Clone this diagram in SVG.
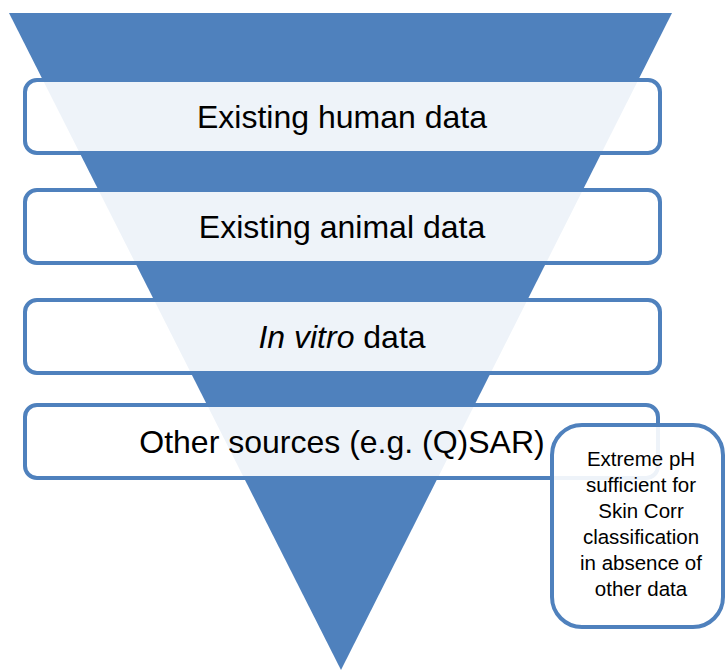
<svg xmlns="http://www.w3.org/2000/svg" width="725" height="670" viewBox="0 0 725 670">
<style>
.box{fill:#ffffff;fill-opacity:0.9;stroke:#4F81BD;stroke-width:4}
.lbl{font-family:"Liberation Sans",Arial,sans-serif;font-size:32px;fill:#000;text-anchor:middle}
.call{font-family:"Liberation Sans",Arial,sans-serif;font-size:20.5px;fill:#000;text-anchor:middle}
</style>
<rect width="725" height="670" fill="#ffffff"/>
<polygon id="funnel" points="9,13 672,13 341,670" fill="#4F81BD"/>
<g id="n1"><rect class="box" x="25" y="80" width="635" height="73" rx="12"/><text class="lbl" x="342" y="128">Existing human data</text></g>
<g id="n2"><rect class="box" x="25" y="190" width="635" height="73" rx="12"/><text class="lbl" x="342" y="238">Existing animal data</text></g>
<g id="n3"><rect class="box" x="25" y="300" width="635" height="73" rx="12"/><text class="lbl" x="342" y="348"><tspan font-style="italic">In vitro</tspan> data</text></g>
<g id="n4"><rect class="box" x="25" y="405" width="633" height="73" rx="12"/><text class="lbl" x="342" y="453">Other sources (e.g. (Q)SAR)</text></g>
<g id="n5"><rect class="box" x="552" y="425" width="171" height="202" rx="30"/>
<text class="call" x="641"><tspan x="641" y="466">Extreme pH</tspan><tspan x="641" y="492">sufficient for</tspan><tspan x="641" y="518">Skin Corr</tspan><tspan x="641" y="544">classification</tspan><tspan x="641" y="570">in absence of</tspan><tspan x="641" y="596">other data</tspan></text></g>
<g id="connectors"/>
</svg>
